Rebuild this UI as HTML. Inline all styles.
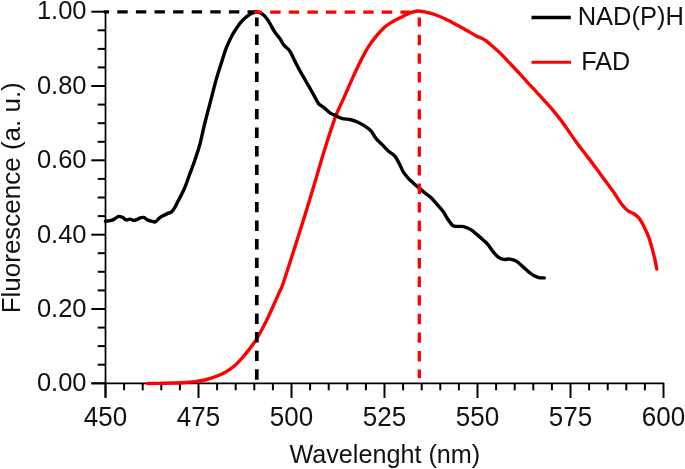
<!DOCTYPE html>
<html><head><meta charset="utf-8"><title>Fluorescence spectra</title>
<style>
html,body{margin:0;padding:0;background:#fff;}
svg{display:block;filter:blur(0.5px);}
text{font-family:"Liberation Sans",Arial,sans-serif;fill:#111;}
</style></head>
<body>
<svg width="685" height="469" viewBox="0 0 685 469">
<rect width="685" height="469" fill="#fff"/>
<g stroke="#000" stroke-width="1.75" fill="none">
<line x1="105.5" x2="105.5" y1="11" y2="397.3"/>
<line x1="91.3" x2="664.2" y1="383.3" y2="383.3"/>
<g stroke-width="2"><line x1="91.3" x2="105.5" y1="383.3" y2="383.3"/><line x1="97.7" x2="105.5" y1="364.7" y2="364.7"/><line x1="97.7" x2="105.5" y1="346.1" y2="346.1"/><line x1="97.7" x2="105.5" y1="327.6" y2="327.6"/><line x1="91.3" x2="105.5" y1="309.0" y2="309.0"/><line x1="97.7" x2="105.5" y1="290.4" y2="290.4"/><line x1="97.7" x2="105.5" y1="271.8" y2="271.8"/><line x1="97.7" x2="105.5" y1="253.2" y2="253.2"/><line x1="91.3" x2="105.5" y1="234.7" y2="234.7"/><line x1="97.7" x2="105.5" y1="216.1" y2="216.1"/><line x1="97.7" x2="105.5" y1="197.5" y2="197.5"/><line x1="97.7" x2="105.5" y1="178.9" y2="178.9"/><line x1="91.3" x2="105.5" y1="160.3" y2="160.3"/><line x1="97.7" x2="105.5" y1="141.8" y2="141.8"/><line x1="97.7" x2="105.5" y1="123.2" y2="123.2"/><line x1="97.7" x2="105.5" y1="104.6" y2="104.6"/><line x1="91.3" x2="105.5" y1="86.0" y2="86.0"/><line x1="97.7" x2="105.5" y1="67.4" y2="67.4"/><line x1="97.7" x2="105.5" y1="48.9" y2="48.9"/><line x1="97.7" x2="105.5" y1="30.3" y2="30.3"/><line x1="91.3" x2="105.5" y1="11.7" y2="11.7"/><line x1="105.5" x2="105.5" y1="383.3" y2="398"/><line x1="124.1" x2="124.1" y1="383.3" y2="390.3"/><line x1="142.7" x2="142.7" y1="383.3" y2="390.3"/><line x1="161.3" x2="161.3" y1="383.3" y2="390.3"/><line x1="179.9" x2="179.9" y1="383.3" y2="390.3"/><line x1="198.5" x2="198.5" y1="383.3" y2="398"/><line x1="217.1" x2="217.1" y1="383.3" y2="390.3"/><line x1="235.7" x2="235.7" y1="383.3" y2="390.3"/><line x1="254.3" x2="254.3" y1="383.3" y2="390.3"/><line x1="272.9" x2="272.9" y1="383.3" y2="390.3"/><line x1="291.5" x2="291.5" y1="383.3" y2="398"/><line x1="310.1" x2="310.1" y1="383.3" y2="390.3"/><line x1="328.7" x2="328.7" y1="383.3" y2="390.3"/><line x1="347.3" x2="347.3" y1="383.3" y2="390.3"/><line x1="365.9" x2="365.9" y1="383.3" y2="390.3"/><line x1="384.5" x2="384.5" y1="383.3" y2="398"/><line x1="403.1" x2="403.1" y1="383.3" y2="390.3"/><line x1="421.7" x2="421.7" y1="383.3" y2="390.3"/><line x1="440.3" x2="440.3" y1="383.3" y2="390.3"/><line x1="458.9" x2="458.9" y1="383.3" y2="390.3"/><line x1="477.5" x2="477.5" y1="383.3" y2="398"/><line x1="496.1" x2="496.1" y1="383.3" y2="390.3"/><line x1="514.7" x2="514.7" y1="383.3" y2="390.3"/><line x1="533.3" x2="533.3" y1="383.3" y2="390.3"/><line x1="551.9" x2="551.9" y1="383.3" y2="390.3"/><line x1="570.5" x2="570.5" y1="383.3" y2="398"/><line x1="589.1" x2="589.1" y1="383.3" y2="390.3"/><line x1="607.7" x2="607.7" y1="383.3" y2="390.3"/><line x1="626.3" x2="626.3" y1="383.3" y2="390.3"/><line x1="644.9" x2="644.9" y1="383.3" y2="390.3"/><line x1="663.5" x2="663.5" y1="383.3" y2="398"/></g>
</g>
<path d="M147.5 383.5C150.4 383.5 159.2 383.4 165.0 383.3C170.8 383.2 177.4 383.0 182.4 382.7C187.4 382.4 191.2 382.1 194.9 381.6C198.7 381.2 201.6 380.8 204.9 380.0C208.2 379.2 211.6 378.1 214.9 376.9C218.2 375.6 221.6 374.4 224.9 372.5C228.2 370.6 232.0 367.9 234.9 365.5C237.8 363.1 239.8 360.6 242.3 357.8C244.8 355.0 247.5 351.6 249.8 348.6C252.1 345.6 254.0 343.2 256.1 339.9C258.2 336.6 260.2 332.6 262.3 328.7C264.4 324.8 266.5 320.6 268.6 316.2C270.7 311.8 272.9 306.7 274.8 302.5C276.7 298.3 278.2 294.9 279.8 291.2C281.4 287.4 280.2 292.4 284.3 280.0C288.4 267.6 299.3 233.3 304.4 217.0C309.5 200.7 311.5 193.8 314.9 182.4C318.3 171.0 321.4 159.7 324.9 148.7C328.4 137.7 332.7 124.3 335.7 116.2C338.7 108.1 340.8 104.9 343.0 99.9C345.2 94.9 347.1 90.5 349.0 86.1C350.9 81.7 352.6 78.0 354.6 73.6C356.6 69.2 358.8 64.5 361.2 59.9C363.6 55.3 366.1 50.4 368.8 46.2C371.5 42.0 374.6 38.1 377.3 34.9C380.0 31.7 382.1 29.3 384.8 27.0C387.5 24.7 390.7 22.8 393.3 21.2C395.9 19.6 398.3 18.6 400.5 17.5C402.7 16.4 404.5 15.4 406.5 14.5C408.5 13.6 410.5 12.8 412.5 12.2C414.5 11.6 416.2 10.9 418.7 11.0C421.2 11.1 424.4 11.8 427.5 12.5C430.6 13.2 434.1 14.2 437.4 15.5C440.7 16.8 444.1 18.4 447.4 20.0C450.7 21.6 454.1 23.5 457.4 25.3C460.7 27.1 464.2 29.0 467.4 30.8C470.5 32.6 473.5 34.4 476.3 35.9C479.1 37.4 482.0 38.2 484.3 39.6C486.6 41.0 487.3 41.8 489.9 44.0C492.5 46.2 496.6 49.7 499.9 52.9C503.2 56.1 506.5 59.7 509.8 63.2C513.1 66.7 516.5 70.3 519.8 73.9C523.1 77.5 526.5 81.2 529.8 84.8C533.1 88.4 536.5 92.0 539.8 95.6C543.1 99.2 546.8 103.2 549.8 106.6C552.8 110.0 555.4 113.2 557.8 116.2C560.2 119.2 561.1 120.3 564.2 124.7C567.3 129.1 572.5 136.8 576.6 142.4C580.7 148.1 584.8 153.2 588.9 158.6C593.0 164.0 596.9 169.4 601.0 174.9C605.1 180.4 610.0 187.0 613.4 191.8C616.8 196.6 618.9 200.6 621.3 203.7C623.7 206.8 625.5 208.8 627.6 210.5C629.7 212.2 631.9 212.5 633.8 213.7C635.7 214.9 637.1 215.8 638.8 217.9C640.5 220.0 642.1 222.9 643.8 226.2C645.5 229.4 647.3 233.4 648.8 237.4C650.2 241.4 651.5 246.2 652.5 249.9C653.5 253.7 654.3 256.7 655.0 259.9C655.7 263.1 656.5 267.6 656.8 269.1" fill="none" stroke="#f00" stroke-width="3.4" stroke-linejoin="round" stroke-linecap="round"/>
<path d="M105.5 221.3C106.5 221.2 109.6 220.9 111.2 220.4C112.8 219.9 113.8 219.3 115.0 218.6C116.2 217.9 117.5 216.6 118.7 216.4C120.0 216.2 121.2 216.8 122.5 217.4C123.8 218.0 125.0 219.6 126.2 219.9C127.5 220.2 128.8 219.0 130.0 219.1C131.2 219.2 132.5 220.3 133.7 220.4C134.9 220.5 136.3 219.8 137.4 219.4C138.5 219.0 138.9 218.2 140.0 217.9C141.1 217.6 142.5 217.1 143.7 217.4C144.9 217.7 146.2 219.3 147.4 219.9C148.7 220.5 149.9 220.8 151.2 221.1C152.5 221.4 154.2 222.3 155.4 221.9C156.7 221.5 157.5 219.6 158.7 218.6C159.9 217.6 160.9 216.9 162.4 216.1C163.9 215.3 165.9 214.3 167.4 213.6C168.9 212.9 170.3 212.9 171.6 211.9C172.8 210.9 173.9 209.0 174.9 207.4C175.9 205.8 176.4 204.4 177.4 202.4C178.4 200.4 179.8 197.9 181.1 195.4C182.3 192.9 183.4 191.0 184.9 187.4C186.4 183.8 188.2 178.3 189.9 173.7C191.6 169.1 193.3 164.8 194.9 160.0C196.5 155.2 198.3 150.0 199.7 145.0C201.1 140.0 202.1 134.7 203.2 130.0C204.3 125.3 205.1 122.0 206.4 117.0C207.7 112.0 209.3 106.1 210.9 99.9C212.5 93.7 214.3 86.4 216.1 79.9C217.9 73.5 220.2 66.4 221.9 61.2C223.6 56.0 224.4 52.9 226.0 48.7C227.6 44.5 229.8 39.7 231.6 36.2C233.4 32.7 235.3 30.0 237.0 27.5C238.7 25.0 240.1 23.1 241.8 21.2C243.5 19.3 245.5 17.6 247.3 16.2C249.1 14.8 251.0 13.7 252.7 13.0C254.4 12.3 255.7 11.8 257.3 12.0C258.9 12.2 260.8 12.9 262.5 14.2C264.2 15.4 266.1 17.6 267.5 19.5C268.9 21.4 269.9 23.7 271.2 25.8C272.4 27.9 273.5 30.2 275.0 32.4C276.5 34.5 278.6 36.6 280.0 38.7C281.4 40.8 282.1 42.8 283.7 44.9C285.3 47.0 288.2 48.9 289.9 51.2C291.6 53.5 292.2 55.8 293.7 58.7C295.2 61.6 297.0 65.5 298.7 68.6C300.4 71.7 302.0 74.5 303.7 77.4C305.4 80.3 307.0 83.2 308.7 86.1C310.4 89.0 312.0 92.0 313.7 94.9C315.4 97.8 317.0 101.5 318.6 103.6C320.2 105.7 321.7 105.8 323.6 107.3C325.5 108.8 327.8 111.4 329.9 112.8C332.0 114.2 334.0 114.8 336.1 115.8C338.2 116.8 340.2 118.1 342.5 118.7C344.8 119.3 347.5 119.0 350.0 119.5C352.5 120.0 354.9 120.9 357.4 122.0C359.9 123.1 362.6 124.7 364.9 126.2C367.2 127.7 369.3 129.1 371.2 131.2C373.1 133.3 374.3 136.4 376.2 138.7C378.1 141.0 380.3 142.8 382.4 144.9C384.5 147.0 386.5 149.3 388.6 151.2C390.7 153.1 393.0 153.9 394.9 156.2C396.8 158.5 398.4 162.2 399.9 164.9C401.3 167.6 402.2 170.1 403.6 172.4C405.1 174.7 406.7 176.6 408.6 178.6C410.5 180.6 413.0 182.7 414.9 184.4C416.8 186.1 418.2 187.2 419.9 188.6C421.5 190.0 422.9 191.4 424.8 192.9C426.7 194.4 429.0 195.9 431.1 197.8C433.2 199.8 435.3 202.3 437.3 204.6C439.3 206.8 441.3 209.0 443.0 211.3C444.7 213.7 445.9 216.3 447.5 218.7C449.1 221.0 450.9 224.1 452.5 225.4C454.1 226.7 455.5 226.2 457.4 226.4C459.3 226.6 461.4 226.1 463.7 226.7C466.0 227.3 468.9 228.5 471.2 229.9C473.5 231.3 475.3 233.2 477.4 234.9C479.5 236.7 481.8 238.7 483.7 240.4C485.6 242.2 487.0 243.4 488.6 245.4C490.2 247.4 491.9 250.4 493.6 252.4C495.3 254.4 496.9 256.2 498.6 257.4C500.3 258.6 501.7 259.1 503.6 259.4C505.5 259.7 507.8 258.8 509.9 259.1C512.0 259.4 514.0 259.9 516.1 261.1C518.2 262.3 520.2 264.3 522.3 266.1C524.4 267.9 526.7 270.3 528.6 271.9C530.5 273.4 531.9 274.4 533.6 275.4C535.3 276.3 536.8 277.2 538.6 277.6C540.4 278.0 543.3 277.8 544.3 277.9" fill="none" stroke="#000" stroke-width="3.4" stroke-linejoin="round" stroke-linecap="round"/>
<g stroke-width="3.7" fill="none" stroke-dasharray="10.4 8.2">
<line x1="103.8" x2="257" y1="11.9" y2="11.9" stroke="#000" stroke-dashoffset="5.1" stroke-width="3.3"/>
<line x1="256.8" x2="256.8" y1="379.7" y2="17.5" stroke="#000"/>
<line x1="254.2" x2="411" y1="12.1" y2="12.1" stroke="#f00" stroke-width="3.3" stroke-dashoffset="2.6"/>
<line x1="419.3" x2="419.3" y1="378.3" y2="17.5" stroke="#f00" stroke-dashoffset="1.7" stroke-width="3.3"/>
</g>
<line x1="531.5" x2="570.8" y1="17.5" y2="17.5" stroke="#000" stroke-width="3.5"/>
<line x1="531.5" x2="571" y1="62.2" y2="62.2" stroke="#f00" stroke-width="3"/>
<g font-size="26"><text transform="translate(86.5 391.3) scale(1 1.04)" text-anchor="end" font-size="25.5">0.00</text><text transform="translate(86.5 317.0) scale(1 1.04)" text-anchor="end" font-size="25.5">0.20</text><text transform="translate(86.5 242.7) scale(1 1.04)" text-anchor="end" font-size="25.5">0.40</text><text transform="translate(86.5 168.3) scale(1 1.04)" text-anchor="end" font-size="25.5">0.60</text><text transform="translate(86.5 94.0) scale(1 1.04)" text-anchor="end" font-size="25.5">0.80</text><text transform="translate(86.5 19.1) scale(1 1.04)" text-anchor="end" font-size="25.5">1.00</text><text transform="translate(105.5 425.7) scale(1 1.04)" text-anchor="middle">450</text><text transform="translate(198.5 425.7) scale(1 1.04)" text-anchor="middle">475</text><text transform="translate(291.5 425.7) scale(1 1.04)" text-anchor="middle">500</text><text transform="translate(384.5 425.7) scale(1 1.04)" text-anchor="middle">525</text><text transform="translate(477.5 425.7) scale(1 1.04)" text-anchor="middle">550</text><text transform="translate(570.5 425.7) scale(1 1.04)" text-anchor="middle">575</text><text transform="translate(663.5 425.7) scale(1 1.04)" text-anchor="middle">600</text></g>
<text transform="translate(577.7 25.1) scale(1 1.04)" font-size="25.5">NAD(P)H</text>
<text transform="translate(581.2 70.2) scale(1 1.04)" font-size="25.2">FAD</text>
<text transform="translate(289.4 462.7)" font-size="25.2">Wavelenght (nm)</text>
<text transform="translate(19.6 313.3) rotate(-90) scale(1 0.96)" font-size="26">Fluorescence (a. u.)</text>
</svg>
</body></html>
